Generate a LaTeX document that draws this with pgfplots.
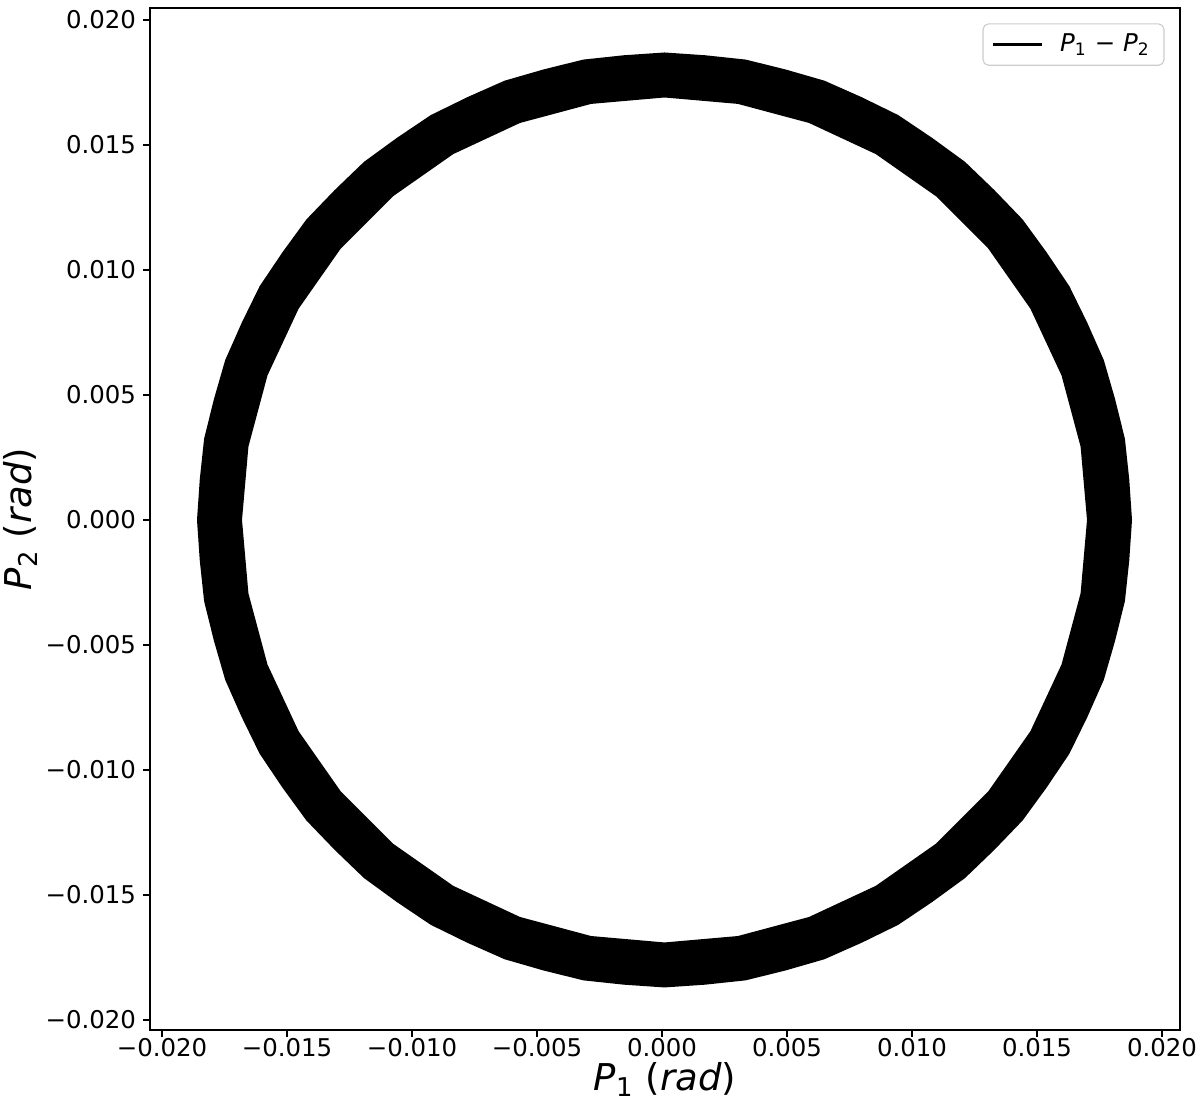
\documentclass[border=0pt]{standalone}
\usepackage{fontspec}
\setmainfont{DejaVu Sans}
\usepackage{pgfplots}
\pgfplotsset{compat=1.18}

\begin{document}
\begin{tikzpicture}
\begin{axis}[
    scale only axis,
    width=370.8pt, height=367.9pt,
    xmin=-0.02048, xmax=0.02072,
    ymin=-0.0204, ymax=0.02048,
    scaled ticks=false,
    xtick={-0.02,-0.015,-0.01,-0.005,0,0.005,0.01,0.015,0.02},
    ytick={-0.02,-0.015,-0.01,-0.005,0,0.005,0.01,0.015,0.02},
    xticklabels={−0.020,−0.015,−0.010,−0.005,0.000,0.005,0.010,0.015,0.020},
    yticklabels={−0.020,−0.015,−0.010,−0.005,0.000,0.005,0.010,0.015,0.020},
    xtick pos=bottom, ytick pos=left,
    tick align=outside,
    major tick length=2.5pt,
    tick style={black, line width=0.6pt},
    axis line style={line width=0.6pt},
    tick label style={font=\fontsize{8.8}{10}\selectfont},
    xticklabel style={yshift=3pt},
    yticklabel style={xshift=1pt},
    label style={font=\fontsize{13.3}{15}\selectfont},
    xlabel={\textit{P}\textsubscript{1} (\textit{rad})},
    ylabel={\textit{P}\textsubscript{2} (\textit{rad})},
    xlabel style={yshift=5pt},
    ylabel style={yshift=-4pt},
    legend style={at={(0.985,0.985)}, anchor=north east,
        draw=black!20, rounded corners=2pt,
        font=\fontsize{8.8}{10}\selectfont,
        inner xsep=3pt, inner ysep=1.5pt},
    legend image code/.code={\draw[#1] (0cm,0cm) -- (0.62cm,0cm);},
    legend cell align=left,
]

% ring: outer boundary counter-clockwise, inner boundary clockwise
\addplot[fill=black, draw=none, forget plot] coordinates {
  (0.0188,0) (0.018689,0.001626) (0.018516,0.003247) (0.018124,0.004830)
  (0.017672,0.006396) (0.017012,0.007886) (0.016295,0.00935) (0.015385,0.010703)
  (0.014425,0.012020) (0.013295,0.013195) (0.012120,0.014325) (0.010803,0.015285)
  (0.00945,0.016195) (0.007986,0.016912) (0.006496,0.017572) (0.004930,0.018024)
  (0.003347,0.018416) (0.001726,0.018589) (0.0001,0.0187)
  (-0.001526,0.018589) (-0.003147,0.018416) (-0.004730,0.018024) (-0.006296,0.017572)
  (-0.007786,0.016912) (-0.00925,0.016195) (-0.010603,0.015285) (-0.011920,0.014325)
  (-0.013095,0.013195) (-0.014225,0.012020) (-0.015185,0.010703) (-0.016095,0.00935)
  (-0.016812,0.007886) (-0.017472,0.006396) (-0.017924,0.004830) (-0.018316,0.003247)
  (-0.018489,0.001626) (-0.0186,0)
  (-0.018489,-0.001626) (-0.018316,-0.003247) (-0.017924,-0.004830) (-0.017472,-0.006396)
  (-0.016812,-0.007886) (-0.016095,-0.00935) (-0.015185,-0.010703) (-0.014225,-0.012020)
  (-0.013095,-0.013195) (-0.011920,-0.014325) (-0.010603,-0.015285) (-0.00925,-0.016195)
  (-0.007786,-0.016912) (-0.006296,-0.017572) (-0.004730,-0.018024) (-0.003147,-0.018416)
  (-0.001526,-0.018589) (0.0001,-0.0187)
  (0.001726,-0.018589) (0.003347,-0.018416) (0.004930,-0.018024) (0.006496,-0.017572)
  (0.007986,-0.016912) (0.00945,-0.016195) (0.010803,-0.015285) (0.012120,-0.014325)
  (0.013295,-0.013195) (0.014425,-0.012020) (0.015385,-0.010703) (0.016295,-0.00935)
  (0.017012,-0.007886) (0.017672,-0.006396) (0.018124,-0.004830) (0.018516,-0.003247)
  (0.018689,-0.001626) (0.0188,0)
  (0.017,0) (0.016743,-0.002935) (0.015981,-0.00578) (0.014736,-0.00845)
  (0.013046,-0.010863) (0.010963,-0.012946) (0.00855,-0.014636) (0.00588,-0.015881)
  (0.003035,-0.016643) (0.0001,-0.0169) (-0.002835,-0.016643) (-0.00568,-0.015881)
  (-0.00835,-0.014636) (-0.010763,-0.012946) (-0.012846,-0.010863) (-0.014536,-0.00845)
  (-0.015781,-0.00578) (-0.016543,-0.002935) (-0.0168,0) (-0.016543,0.002935)
  (-0.015781,0.00578) (-0.014536,0.00845) (-0.012846,0.010863) (-0.010763,0.012946)
  (-0.00835,0.014636) (-0.00568,0.015881) (-0.002835,0.016643) (0.0001,0.0169)
  (0.003035,0.016643) (0.00588,0.015881) (0.00855,0.014636) (0.010963,0.012946)
  (0.013046,0.010863) (0.014736,0.00845) (0.015981,0.00578) (0.016743,0.002935)
  (0.017,0)
};

\addlegendimage{black, line width=1.1pt}
\addlegendentry{\hspace{4pt}\textit{P}\textsubscript{1} − \textit{P}\textsubscript{2}}

\end{axis}
\path (current axis.south west) ++(-54pt,-30.24pt) coordinate (bbA);
\path (current axis.north east) ++(7.2pt,2.88pt) coordinate (bbB);
\pgfresetboundingbox
\useasboundingbox (bbA) rectangle (bbB);
\end{tikzpicture}
\end{document}
